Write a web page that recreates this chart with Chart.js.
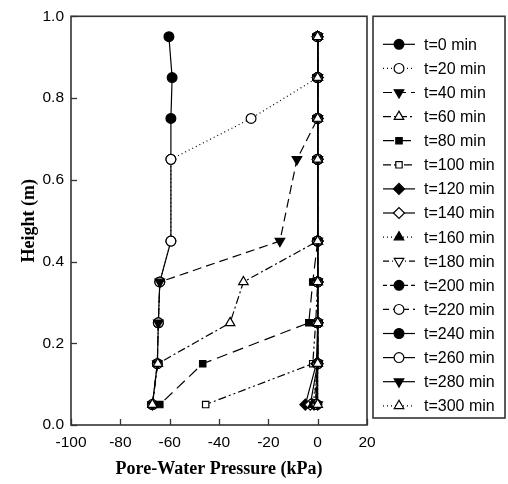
<!DOCTYPE html>
<html>
<head>
<meta charset="utf-8">
<script src="https://cdn.jsdelivr.net/npm/chart.js@4/dist/chart.umd.min.js"></script>
<style>
  html, body { margin: 0; padding: 0; background: #fff; }
  #wrap { width: 508px; height: 484px; }
</style>
</head>
<body>
<div id="wrap"><canvas id="chart" width="508" height="484"></canvas></div>
<script>
// heights of the sensors (m)
const heights = [0.95, 0.85, 0.75, 0.65, 0.45, 0.35, 0.25, 0.15, 0.05];
const times = [0, 20, 40, 60, 80, 100, 120, 140, 160, 180, 200, 220, 240, 260, 280, 300];
const xTicks = [-100, -80, -60, -40, -20, 0, 20];
const yTicks = [0.0, 0.2, 0.4, 0.6, 0.8, 1.0];

// pore-water pressure (kPa) per time, same order as heights
const p0   = [-60.3, -59, -59.5, -59.5, -59.5, -64, -64.6, -65, -67];
const p20  = [0, 0, -27, -59.5, -59.5, -64, -64.6, -65, -67];
const p40  = [0, 0, 0, -8.4, -15.3, -64, -64.6, -65, -67];
const p60  = [0, 0, 0, 0, 0, -30.1, -35.5, -64.8, -67];
const p80  = [0, 0, 0, 0, 0, -2, -3.6, -46.6, -64];
const p100 = [0, 0, 0, 0, 0, 0, -0.8, -2, -45.4];
const p120 = [0, 0, 0, 0, 0, 0, 0, -0.5, -5];
const p140 = [0, 0, 0, 0, 0, 0, 0, 0, -3];
const p160 = [0, 0, 0, 0, 0, 0, 0, 0, -2];
const p180 = [0, 0, 0, 0, 0, 0, 0, 0, -1.5];
const p200 = [0, 0, 0, 0, 0, 0, 0, 0, -1];
const p220 = [0, 0, 0, 0, 0, 0, 0, 0, -0.8];
const p240 = [0, 0, 0, 0, 0, 0, 0, 0, -0.5];
const p260 = [0, 0, 0, 0, 0, 0, 0, 0, -0.3];
const p280 = [0, 0, 0, 0, 0, 0, 0, 0, 0];
const p300 = [0, 0, 0, 0, 0, 0, 0, 0, 0];
const series = [p0, p20, p40, p60, p80, p100, p120, p140, p160, p180, p200, p220, p240, p260, p280, p300];

// look of each curve: dash, marker, filled?, rotation
const styles = [
  { dash: [], pt: 'circle', fill: true, rot: 0 },
  { dash: [1, 3], pt: 'circle', fill: false, rot: 0 },
  { dash: [9, 5], pt: 'triangle', fill: true, rot: 180 },
  { dash: [8, 3, 2, 3], pt: 'triangle', fill: false, rot: 0 },
  { dash: [11, 6], pt: 'rect', fill: true, rot: 0 },
  { dash: [8, 3, 2, 3, 2, 3], pt: 'rect', fill: false, rot: 0 },
  { dash: [], pt: 'rectRot', fill: true, rot: 0 },
  { dash: [], pt: 'rectRot', fill: false, rot: 0 },
  { dash: [1, 3], pt: 'triangle', fill: true, rot: 0 },
  { dash: [6, 3, 1, 3], pt: 'triangle', fill: false, rot: 180 },
  { dash: [4, 3], pt: 'circle', fill: true, rot: 0 },
  { dash: [6, 4], pt: 'circle', fill: false, rot: 0 },
  { dash: [], pt: 'circle', fill: true, rot: 0 },
  { dash: [], pt: 'circle', fill: false, rot: 0 },
  { dash: [], pt: 'triangle', fill: true, rot: 180 },
  { dash: [1, 3], pt: 'triangle', fill: false, rot: 0 }
];

function radiusFor(pt) {
  if (pt === 'rect') return 4.5;
  if (pt === 'circle') return 4.9;
  return 5.5;
}

const datasets = series.map((vals, i) => {
  const s = styles[i];
  return {
    label: 't=' + times[i] + ' min',
    data: vals.map((v, j) => ({ x: v, y: heights[j] })),
    borderColor: '#000',
    borderWidth: 1.2,
    borderDash: s.dash,
    backgroundColor: s.fill ? '#000' : '#fff',
    pointBackgroundColor: s.fill ? '#000' : '#fff',
    pointBorderColor: '#000',
    pointBorderWidth: 1.2,
    pointStyle: s.pt,
    pointRotation: s.rot,
    pointRadius: radiusFor(s.pt),
    showLine: true,
    tension: 0,
    order: -i
  };
});

const frameAndTicks = {
  id: 'frameAndTicks',
  afterDraw(chart) {
    const { ctx, chartArea: a, scales } = chart;
    ctx.save();
    ctx.strokeStyle = '#333';
    ctx.lineWidth = 1.3;
    xTicks.forEach(v => {
      const x = Math.round(scales.x.getPixelForValue(v)) + 0.5;
      ctx.beginPath(); ctx.moveTo(x, a.bottom); ctx.lineTo(x, a.bottom - 6); ctx.stroke();
    });
    yTicks.forEach(v => {
      const y = Math.round(scales.y.getPixelForValue(v)) + 0.5;
      ctx.beginPath(); ctx.moveTo(a.left, y); ctx.lineTo(a.left + 6, y); ctx.stroke();
    });
    ctx.lineWidth = 1.6;
    ctx.strokeRect(a.left, a.top, a.right - a.left, a.bottom - a.top);
    ctx.restore();
  }
};

const boxLegend = {
  id: 'boxLegend',
  afterDraw(chart) {
    const { ctx, chartArea: a } = chart;
    const left = a.right + 6, top = a.top, right = 505, bottom = 418;
    ctx.save();
    ctx.strokeStyle = '#333';
    ctx.lineWidth = 1.6;
    ctx.strokeRect(left, top, right - left, bottom - top);
    const step = 24.1;
    chart.data.datasets.forEach((ds, i) => {
      const y = top + 28 + i * step;
      ctx.strokeStyle = '#000';
      ctx.lineWidth = 1.2;
      ctx.setLineDash(ds.borderDash);
      ctx.beginPath(); ctx.moveTo(left + 10, y); ctx.lineTo(left + 42, y); ctx.stroke();
      ctx.setLineDash([]);
      ctx.fillStyle = ds.pointBackgroundColor;
      Chart.helpers.drawPoint(ctx, {
        pointStyle: ds.pointStyle,
        radius: ds.pointRadius,
        rotation: ds.pointRotation,
        borderWidth: 1.2
      }, left + 26, y);
      ctx.fillStyle = '#000';
      ctx.font = '16px "Liberation Sans", Arial, sans-serif';
      ctx.textAlign = 'left';
      ctx.textBaseline = 'middle';
      ctx.fillText(ds.label, left + 51, y + 1);
    });
    ctx.restore();
  }
};

new Chart(document.getElementById('chart').getContext('2d'), {
  type: 'scatter',
  data: { datasets: datasets },
  options: {
    responsive: false,
    animation: false,
    layout: { padding: { left: 0, top: 15, right: 141, bottom: 0 } },
    plugins: { legend: { display: false }, tooltip: { enabled: false } },
    scales: {
      x: {
        type: 'linear',
        min: -100, max: 20,
        afterBuildTicks: s => { s.ticks = xTicks.map(v => ({ value: v })); },
        afterFit: s => { s.height = 59; },
        grid: { display: false, drawTicks: false },
        border: { display: false },
        ticks: {
          maxRotation: 0,
          padding: 8,
          color: '#000',
          font: { family: '"Liberation Sans", Arial, sans-serif', size: 15.5 }
        },
        title: {
          display: true,
          text: 'Pore-Water Pressure (kPa)',
          color: '#000',
          padding: { top: 0, bottom: 4 },
          font: { family: '"Liberation Serif", "Times New Roman", serif', size: 18, weight: 'bold' }
        }
      },
      y: {
        type: 'linear',
        min: 0, max: 1,
        afterBuildTicks: s => { s.ticks = yTicks.map(v => ({ value: v })); },
        afterFit: s => { s.width = 71; },
        grid: { display: false, drawTicks: false },
        border: { display: false },
        ticks: {
          padding: 7,
          color: '#000',
          callback: v => v.toFixed(1),
          font: { family: '"Liberation Sans", Arial, sans-serif', size: 15.5 }
        },
        title: {
          display: true,
          text: 'Height (m)',
          color: '#000',
          padding: { top: 19, bottom: 0 },
          font: { family: '"Liberation Serif", "Times New Roman", serif', size: 18, weight: 'bold' }
        }
      }
    }
  },
  plugins: [frameAndTicks, boxLegend]
});
</script>
</body>
</html>
